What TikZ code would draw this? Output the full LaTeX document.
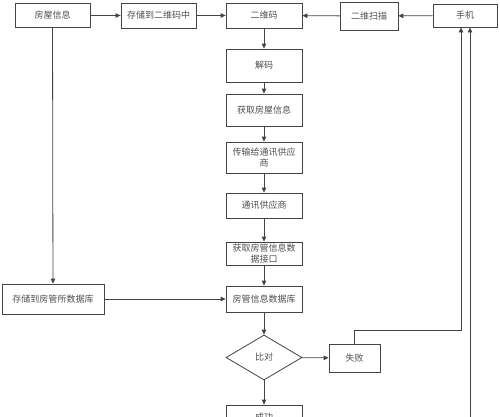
\documentclass[tikz,border=0pt]{standalone}
\usepackage{fontspec}
\newfontfamily\cjk{Noto Sans CJK SC}
\usetikzlibrary{arrows.meta,shapes.geometric}
\definecolor{linec}{HTML}{444444}
\definecolor{textc}{HTML}{505050}
\tikzset{
  box/.style={draw=linec, line width=0.8pt, fill=white, inner sep=1pt,
    font=\cjk\fontsize{9pt}{11pt}\selectfont, text=textc, align=center},
  arr/.style={draw=linec, line width=0.8pt, -{Triangle[length=5pt,width=4.5pt]}},
  plain/.style={draw=linec, line width=0.8pt}
}
\begin{document}
\begin{tikzpicture}[x=1pt,y=-1pt]
\useasboundingbox (0,0) rectangle (500,416);
% top row
\node[box, minimum width=75pt, minimum height=24pt] (fwxx) at (52.5,15.5) {房屋信息};
\node[box, minimum width=75pt, minimum height=25pt] (cc2wm) at (158.5,15.5) {存储到二维码中};
\node[box, minimum width=76pt, minimum height=25pt] (ewm) at (264,15.5) {二维码};
\node[box, minimum width=58pt, minimum height=28pt] (ewsm) at (369,16) {二维扫描};
\node[box, minimum width=64pt, minimum height=23pt] (sj) at (465,15.5) {手机};
% centre column
\node[box, minimum width=76pt, minimum height=33pt] (jm) at (264,65.5) {解码};
\node[box, minimum width=76pt, minimum height=32pt] (hqfw) at (264,110) {获取房屋信息};
\node[box, minimum width=76pt, minimum height=31pt] (csg) at (264,157.5) {传输给通讯供应\\商};
\node[box, minimum width=76pt, minimum height=25pt] (txgys) at (264,205.5) {通讯供应商};
\node[box, minimum width=76pt, minimum height=23pt] (hqjk) at (264,253.5) {获取房管信息数\\据接口};
\node[box, minimum width=76pt, minimum height=26pt] (fgsjk) at (264,299) {房管信息数据库};
\node[box, shape=diamond, minimum width=76pt, minimum height=45pt, inner sep=0pt] (bd) at (264,357.5) {比对};
\node[box, minimum width=76pt, minimum height=25pt] (cg) at (264,417.5) {成功};
% left and right
\node[box, minimum width=102pt, minimum height=30pt] (ccfgs) at (53,299) {存储到房管所数据库};
\node[box, minimum width=51pt, minimum height=28pt] (sb) at (354.5,358) {失败};
% helper coordinates
\coordinate (c1) at (461,330);
\coordinate (c2) at (470,440);
% connectors
\draw[arr] (fwxx) -- (cc2wm);
\draw[arr] (cc2wm) -- (ewm);
\draw[arr] (ewsm) -- (ewm);
\draw[arr] (sj) -- (ewsm);
\draw[arr] (ewm) -- (jm);
\draw[arr] (jm) -- (hqfw);
\draw[arr] (hqfw) -- (csg);
\draw[arr] (csg) -- (txgys);
\draw[arr] (txgys) -- (hqjk);
\draw[arr] (hqjk) -- (fgsjk);
\draw[arr] (fgsjk) -- (bd);
\draw[arr] (bd) -- (cg);
\draw[arr] (fwxx) -- (ccfgs);
\draw[arr] (ccfgs) -- (fgsjk);
\draw[arr] (bd) -- (sb);
\draw[arr] (sb.north) |- (c1) -- (c1 |- sj.south);
\draw[arr] (c2) -- (c2 |- sj.south);
\end{tikzpicture}
\end{document}
